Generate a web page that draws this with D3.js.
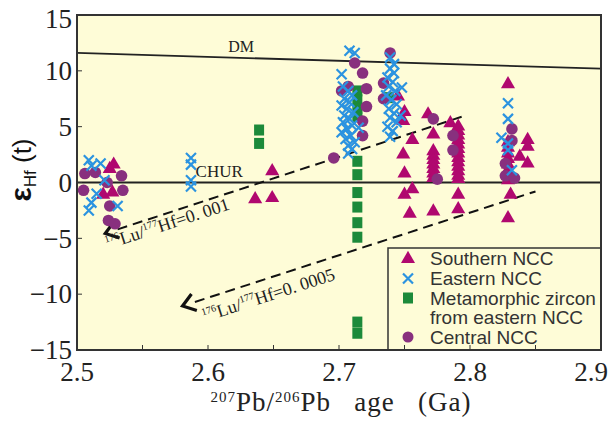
<!DOCTYPE html>
<html>
<head>
<meta charset="utf-8">
<script src="https://cdn.jsdelivr.net/npm/d3@7"></script>
<style>
  body { margin: 0; background: #fff; }
  svg { display: block; }
  .serif { font-family: "Liberation Serif", "Times New Roman", serif; fill: #222; }
  .sans { font-family: "Liberation Sans", Arial, sans-serif; fill: #333; }
</style>
</head>
<body>
<svg id="chart"></svg>
<script>
// values: [age (Ga), eHf(t)]
var southern = [
  [2.528, 1.7], [2.525, 1.3], [2.520, -1.0], [2.527, -0.8],
  [2.636, -1.4], [2.649, -1.3], [2.649, 1.1],
  [2.745, 7.8], [2.750, 6.4], [2.749, 5.6], [2.756, 3.9], [2.749, 2.6], [2.750, 0.9],
  [2.756, -0.5], [2.750, -1.0], [2.754, -2.7],
  [2.768, 6.2], [2.772, 4.4], [2.772, 2.9], [2.772, 2.5], [2.772, 2.1], [2.772, 1.7],
  [2.772, 1.3], [2.772, 0.9], [2.772, 0.5], [2.772, -2.5],
  [2.785, 5.4], [2.791, 5.1], [2.791, 4.7], [2.791, 4.3], [2.791, 3.9], [2.791, 3.5],
  [2.791, 3.1], [2.791, 2.7], [2.791, 2.3], [2.791, 1.9], [2.791, 1.5], [2.791, 1.1],
  [2.791, 0.7], [2.791, 0.4], [2.791, -1.0], [2.791, -2.3],
  [2.829, 8.9], [2.829, 3.7], [2.829, 3.2], [2.829, 2.7], [2.829, 2.2], [2.829, 1.7],
  [2.829, 1.2], [2.829, 0.7], [2.829, 0.3], [2.831, -1.0], [2.829, -3.1],
  [2.844, 3.9], [2.844, 3.3], [2.838, 2.4], [2.844, 1.8]
];

var eastern = [
  [2.509, 2.0], [2.511, 1.5], [2.518, 1.7], [2.521, 0.2], [2.515, -1.0],
  [2.511, -1.8], [2.509, -2.5], [2.531, -2.1],
  [2.587, 2.2], [2.587, 1.6], [2.587, 0.2], [2.587, -0.35],
  [2.708, 11.8], [2.712, 11.6], [2.702, 9.7],
  [2.703, 8.6], [2.707, 8.2], [2.710, 7.8], [2.704, 7.5], [2.708, 7.2], [2.702, 6.9],
  [2.706, 6.6], [2.711, 6.3], [2.704, 6.0], [2.708, 5.7], [2.703, 5.4], [2.710, 5.1],
  [2.706, 4.8], [2.702, 4.5], [2.709, 4.2], [2.705, 3.9], [2.712, 3.6], [2.707, 3.3],
  [2.710, 3.0], [2.707, 2.6], [2.715, 4.9],
  [2.739, 11.2], [2.742, 10.6], [2.739, 10.2], [2.742, 9.8], [2.737, 9.4], [2.741, 9.0],
  [2.738, 8.6], [2.743, 8.2], [2.736, 7.8], [2.740, 7.4], [2.744, 7.0], [2.738, 6.6],
  [2.742, 6.2], [2.739, 5.8], [2.744, 5.4], [2.737, 5.0], [2.741, 4.6], [2.739, 4.1],
  [2.748, 8.5], [2.747, 6.0],
  [2.829, 7.1], [2.829, 5.7], [2.824, 4.0], [2.829, 3.5], [2.829, 2.9], [2.832, 1.1]
];

var metamorphic = [
  [2.639, 4.7], [2.639, 3.5],
  [2.714, 8.2], [2.714, 7.4], [2.714, 6.6], [2.714, 5.9],
  [2.714, 1.9], [2.714, 0.7], [2.714, -0.9], [2.714, -2.2], [2.714, -3.6], [2.714, -4.9],
  [2.714, -12.5], [2.714, -13.5],
  [2.738, 7.6]
];

var central = [
  [2.506, 0.8], [2.505, -0.7], [2.514, 0.9], [2.523, 0.0], [2.534, 0.6], [2.535, -0.7],
  [2.525, -2.1], [2.524, -3.4], [2.529, -3.7],
  [2.712, 10.7], [2.718, 9.8], [2.707, 8.6], [2.702, 8.2], [2.721, 8.4], [2.721, 6.8],
  [2.718, 5.5], [2.718, 4.2], [2.696, 2.2],
  [2.739, 11.6], [2.734, 8.9], [2.734, 7.5],
  [2.772, 5.7], [2.775, 0.3], [2.787, 4.2], [2.787, 2.9],
  [2.832, 4.8], [2.832, 3.75], [2.827, 1.7], [2.827, 0.6], [2.834, 0.4]
];

var dmLine = [[2.5, 11.6], [2.9, 10.2]];
var churLine = [[2.5, 0], [2.9, 0]];
var lu001 = [[2.531, -4.2], [2.794, 5.9]];
var lu0005 = [[2.590, -10.7], [2.850, -0.8]];

var xTicks = [2.5, 2.6, 2.7, 2.8, 2.9];
var xMinorTicks = [2.55, 2.6, 2.65, 2.7, 2.75, 2.8, 2.85];
var yTicks = [-15, -10, -5, 0, 5, 10, 15];

var legendItems = [
  { key: 'tri', label: ['Southern NCC'] },
  { key: 'x', label: ['Eastern NCC'] },
  { key: 'sq', label: ['Metamorphic zircon', 'from eastern NCC'] },
  { key: 'dot', label: ['Central NCC'] }
];

var colors = { tri: '#b0086f', x: '#2b93e0', sq: '#1c8a3a', dot: '#88307e' };

var width = 611, height = 425;
var plotL = 77, plotR = 601, plotT = 15, plotB = 350;

var svg = d3.select('#chart').attr('width', width).attr('height', height);

var x = d3.scaleLinear().domain([2.5, 2.9]).range([plotL, plotR]);
var y = d3.scaleLinear().domain([-15, 15]).range([plotB, plotT]);

svg.append('rect')
  .attr('x', plotL).attr('y', plotT)
  .attr('width', plotR - plotL).attr('height', plotB - plotT)
  .attr('fill', '#fefcd7');

var line = d3.line()
  .x(function(d) { return x(d[0]); })
  .y(function(d) { return y(d[1]); });

// reference lines
[dmLine, churLine].forEach(function(l) {
  svg.append('path').datum(l)
    .attr('d', line)
    .attr('fill', 'none')
    .attr('stroke', '#222')
    .attr('stroke-width', 1.8);
});

svg.append('text').attr('class', 'serif')
  .attr('x', x(2.6155)).attr('y', y(11.2) - 5)
  .attr('font-size', 16)
  .text('DM');

svg.append('text').attr('class', 'serif')
  .attr('x', x(2.5905)).attr('y', y(0) - 6)
  .attr('font-size', 17)
  .text('CHUR');

// model evolution lines with arrows and labels
function drawEvolution(l, ratio, labelAt) {
  svg.append('path').datum(l)
    .attr('d', line)
    .attr('fill', 'none')
    .attr('stroke', '#111')
    .attr('stroke-width', 2)
    .attr('stroke-dasharray', '10,6');

  var x0 = x(l[0][0]), y0 = y(l[0][1]);
  var x1 = x(l[1][0]), y1 = y(l[1][1]);
  var ang = Math.atan2(y1 - y0, x1 - x0);
  var deg = ang * 180 / Math.PI;

  var tipX = x0 - 13 * Math.cos(ang), tipY = y0 - 13 * Math.sin(ang);
  var arm = 15, spread = 0.62;
  svg.append('path')
    .attr('d', 'M' + (tipX + arm * Math.cos(ang - spread)) + ',' + (tipY + arm * Math.sin(ang - spread)) +
      'L' + tipX + ',' + tipY +
      'L' + (tipX + arm * Math.cos(ang + spread)) + ',' + (tipY + arm * Math.sin(ang + spread)))
    .attr('fill', 'none')
    .attr('stroke', '#111')
    .attr('stroke-width', 3.2);

  var t = svg.append('text').attr('class', 'serif')
    .attr('font-size', 18)
    .attr('transform', 'translate(' + x(labelAt[0]) + ',' + y(labelAt[1]) + ') rotate(' + deg + ')');
  t.append('tspan').attr('font-size', 10).attr('dy', -7).text('176');
  t.append('tspan').attr('dy', 7).text('Lu/');
  t.append('tspan').attr('font-size', 10).attr('dy', -7).text('177');
  t.append('tspan').attr('dy', 7).text('Hf=' + ratio);
}

drawEvolution(lu001, '0. 001', [2.5235, -6.0]);
drawEvolution(lu0005, '0. 0005', [2.5975, -12.5]);

// markers
var tri = d3.symbol().type(d3.symbolTriangle).size(86);

svg.append('g').selectAll('path').data(southern).enter()
  .append('path')
  .attr('d', tri)
  .attr('transform', function(d) { return 'translate(' + x(d[0]) + ',' + (y(d[1]) + 1) + ')'; })
  .attr('fill', colors.tri);

svg.append('g').selectAll('rect').data(metamorphic).enter()
  .append('rect')
  .attr('x', function(d) { return x(d[0]) - 5; })
  .attr('y', function(d) { return y(d[1]) - 5.5; })
  .attr('width', 10).attr('height', 11)
  .attr('fill', colors.sq);

svg.append('g').selectAll('circle').data(central).enter()
  .append('circle')
  .attr('cx', function(d) { return x(d[0]); })
  .attr('cy', function(d) { return y(d[1]); })
  .attr('r', 5.8)
  .attr('fill', colors.dot);

function cross(cx, cy, s) {
  return 'M' + (cx - s) + ',' + (cy - s) + 'L' + (cx + s) + ',' + (cy + s) +
         'M' + (cx - s) + ',' + (cy + s) + 'L' + (cx + s) + ',' + (cy - s);
}

svg.append('g').selectAll('path').data(eastern).enter()
  .append('path')
  .attr('d', function(d) { return cross(x(d[0]), y(d[1]), 5); })
  .attr('stroke', colors.x)
  .attr('stroke-width', 2.2)
  .attr('fill', 'none');

// legend box
var lg = svg.append('g');
lg.append('rect')
  .attr('x', 388).attr('y', 248)
  .attr('width', plotR - 388).attr('height', plotB - 248)
  .attr('fill', '#fefcd7')
  .attr('stroke', '#333')
  .attr('stroke-width', 1.5);

var rowY = [258, 278.5, 298, 337];
legendItems.forEach(function(item, i) {
  var cy = rowY[i], cx = 408;
  if (item.key == 'tri') {
    lg.append('path').attr('d', tri).attr('transform', 'translate(' + cx + ',' + (cy + 1) + ')').attr('fill', colors.tri);
  } else if (item.key == 'x') {
    lg.append('path').attr('d', cross(cx, cy, 5)).attr('stroke', colors.x).attr('stroke-width', 2.2);
  } else if (item.key == 'sq') {
    lg.append('rect').attr('x', cx - 5).attr('y', cy - 5.5).attr('width', 10).attr('height', 11).attr('fill', colors.sq);
  } else {
    lg.append('circle').attr('cx', cx).attr('cy', cy).attr('r', 5.5).attr('fill', colors.dot);
  }
  item.label.forEach(function(s, j) {
    lg.append('text').attr('class', 'sans')
      .attr('x', 430).attr('y', cy + j * 19.5)
      .attr('dominant-baseline', 'central')
      .attr('font-size', 19)
      .text(s);
  });
});

// inner ticks
svg.append('g').selectAll('line').data(xMinorTicks).enter()
  .append('line')
  .attr('x1', function(d) { return x(d); }).attr('x2', function(d) { return x(d); })
  .attr('y1', plotB).attr('y2', plotB - 5)
  .attr('stroke', '#333').attr('stroke-width', 1);

svg.append('g').selectAll('line').data(yTicks).enter()
  .append('line')
  .attr('x1', plotL).attr('x2', plotL + 5)
  .attr('y1', function(d) { return y(d); }).attr('y2', function(d) { return y(d); })
  .attr('stroke', '#333').attr('stroke-width', 1);

// frame
svg.append('rect')
  .attr('x', plotL).attr('y', plotT)
  .attr('width', plotR - plotL).attr('height', plotB - plotT)
  .attr('fill', 'none')
  .attr('stroke', '#333')
  .attr('stroke-width', 2);

// tick labels
svg.append('g').selectAll('text').data(yTicks).enter()
  .append('text').attr('class', 'serif')
  .attr('x', 72)
  .attr('y', function(d) { return d == 15 ? y(d) + 4 : y(d); })
  .attr('dy', '0.34em')
  .attr('text-anchor', 'end')
  .attr('font-size', 27)
  .text(function(d) { return d < 0 ? '\u2212' + Math.abs(d) : d; });

svg.append('g').selectAll('text').data(xTicks).enter()
  .append('text').attr('class', 'serif')
  .attr('x', function(d, i) { return i == xTicks.length - 1 ? 608 : x(d); })
  .attr('y', 381)
  .attr('text-anchor', function(d, i) { return i == xTicks.length - 1 ? 'end' : 'middle'; })
  .attr('font-size', 27)
  .text(function(d) { return d.toFixed(1); });

// axis titles
var xt = svg.append('text').attr('class', 'serif')
  .attr('x', 341).attr('y', 411)
  .attr('text-anchor', 'middle')
  .attr('letter-spacing', 1)
  .attr('font-size', 27);
xt.append('tspan').attr('font-size', 15).attr('dy', -9).text('207');
xt.append('tspan').attr('dy', 9).text('Pb/');
xt.append('tspan').attr('font-size', 15).attr('dy', -9).text('206');
xt.append('tspan').attr('dy', 9).text('Pb\u00a0\u00a0\u00a0age\u00a0\u00a0\u00a0(Ga)');

var yt = svg.append('text').attr('class', 'sans')
  .attr('transform', 'translate(31,170) rotate(-90)')
  .attr('text-anchor', 'middle')
  .style('fill', '#111');
yt.append('tspan').attr('font-size', 30).attr('font-weight', 'bold').text('\u03b5');
yt.append('tspan').attr('font-size', 17).attr('dy', 5).text('Hf');
yt.append('tspan').attr('font-size', 26).attr('dy', -5).text('\u00a0(t)');
</script>
</body>
</html>
